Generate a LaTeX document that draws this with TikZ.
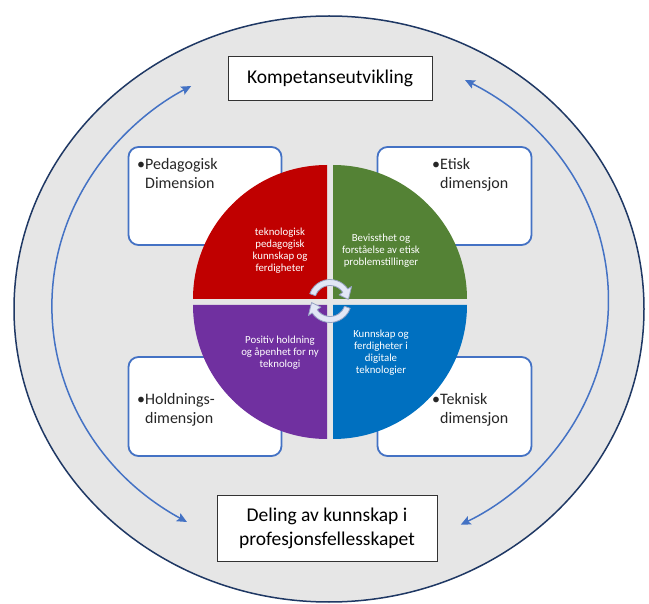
\documentclass[tikz,border=0pt]{standalone}
\usepackage{fontspec}
\setmainfont{Carlito}
\usetikzlibrary{calc,arrows.meta}
\definecolor{bg}{HTML}{E6E6E6}
\definecolor{navy}{HTML}{1F3864}
\definecolor{arcblue}{HTML}{4472C4}
\definecolor{qred}{HTML}{C00000}
\definecolor{qgreen}{HTML}{548235}
\definecolor{qblue}{HTML}{0070C0}
\definecolor{qpurple}{HTML}{7030A0}
\definecolor{cycfill}{RGB}{226,231,246}
\definecolor{cycdraw}{RGB}{150,162,195}
\begin{document}
\begin{tikzpicture}[x=1pt,y=-1pt,
  sidebox/.style={draw=arcblue, line width=1.8pt, fill=white, rounded corners=10pt, inner sep=0pt},
  mainbox/.style={draw=black!80, line width=0.9pt, fill=white, inner sep=0pt, font=\fontsize{19.5}{24}\selectfont},
  sidetext/.style={inner sep=0pt, anchor=base west, font=\fontsize{16}{19}\selectfont, text=black!85},
  quadtext/.style={inner sep=0pt, align=center, text=white, font=\fontsize{10.8}{12}\selectfont},
  bigarc/.style={draw=arcblue, line width=1.5pt, {Stealth[length=10pt,width=9pt,inset=2pt]}-{Stealth[length=10pt,width=9pt,inset=2pt]}},
  cyc/.style={fill=cycfill, draw=cycdraw, line width=0.8pt, line join=round}
]
\useasboundingbox (0,0) rectangle (649,604);
\fill[white] (0,0) rectangle (649,604);
% big background ellipse
\draw[fill=bg, draw=navy, line width=1.5pt] (329,309) ellipse [x radius=315, y radius=293];
% big double arrows
\coordinate (lb) at (187,522);
\coordinate (rt) at (465,80);
\draw[bigarc] (lb) arc[start angle=121, end angle=240, x radius=278, y radius=253];
\draw[bigarc] (rt) arc[start angle=-61, end angle=62, x radius=278, y radius=253];
% side boxes
\node[sidebox, minimum width=153, minimum height=98] (ped) at (205,196) {};
\node[sidebox, minimum width=154, minimum height=98] (eti) at (454.5,196) {};
\node[sidebox, minimum width=153, minimum height=99] (hol) at (205,406.5) {};
\node[sidebox, minimum width=154, minimum height=99] (tek) at (454.5,406.5) {};
% quadrants
\fill[qred] (327,299) -- ++(180:134) arc[start angle=180, end angle=270, radius=134] -- cycle;
\fill[qgreen] (333,299) -- ++(270:134) arc[start angle=270, end angle=360, radius=134] -- cycle;
\fill[qblue] (333,305) -- ++(0:134) arc[start angle=0, end angle=90, radius=134] -- cycle;
\fill[qpurple] (327,305) -- ++(90:134) arc[start angle=90, end angle=180, radius=134] -- cycle;
% cycle arrows
\coordinate (c) at (330,301);
\filldraw[cyc] (c) ++(-160:21.5) arc[start angle=-160, end angle=-34, radius=21.5]
  -- ($(c)+(-34:26)$) -- ($(c)+(-5:18.5)$) -- ($(c)+(-34:11)$) -- ($(c)+(-34:15.5)$)
  arc[start angle=-34, end angle=-160, radius=15.5] -- cycle;
\filldraw[cyc] (c) ++(20:21.5) arc[start angle=20, end angle=146, radius=21.5]
  -- ($(c)+(146:26)$) -- ($(c)+(175:18.5)$) -- ($(c)+(146:11)$) -- ($(c)+(146:15.5)$)
  arc[start angle=146, end angle=20, radius=15.5] -- cycle;
% side texts
\node[sidetext] (pedt) at (137,170) {\begin{tabular}[t]{@{}l@{}l@{}}•&Pedagogisk\\&Dimension\end{tabular}};
\node[sidetext] (etit) at (432,170) {\begin{tabular}[t]{@{}l@{}l@{}}•&Etisk\\&dimensjon\end{tabular}};
\node[sidetext] (holt) at (137,405) {\begin{tabular}[t]{@{}l@{}l@{}}•&Holdnings-\\&dimensjon\end{tabular}};
\node[sidetext] (tekt) at (432,405) {\begin{tabular}[t]{@{}l@{}l@{}}•&Teknisk\\&dimensjon\end{tabular}};
% quadrant texts
\node[quadtext] (q1) at (280,251) {teknologisk\\pedagogisk\\kunnskap og\\ferdigheter};
\node[quadtext] (q2) at (381,251) {Bevissthet og\\forståelse av etisk\\problemstillinger};
\node[quadtext] (q3) at (280,353) {Positiv holdning\\og åpenhet for ny\\teknologi};
\node[quadtext] (q4) at (381,353) {Kunnskap og\\ferdigheter i\\digitale\\teknologier};
% top and bottom boxes
\node[mainbox, minimum width=204, minimum height=44] (komp) at (330,78) {Kompetanseutvikling};
\node[mainbox, minimum width=220, minimum height=66, align=center] (del) at (327,528) {Deling av kunnskap i\\profesjonsfellesskapet};
\end{tikzpicture}
\end{document}
